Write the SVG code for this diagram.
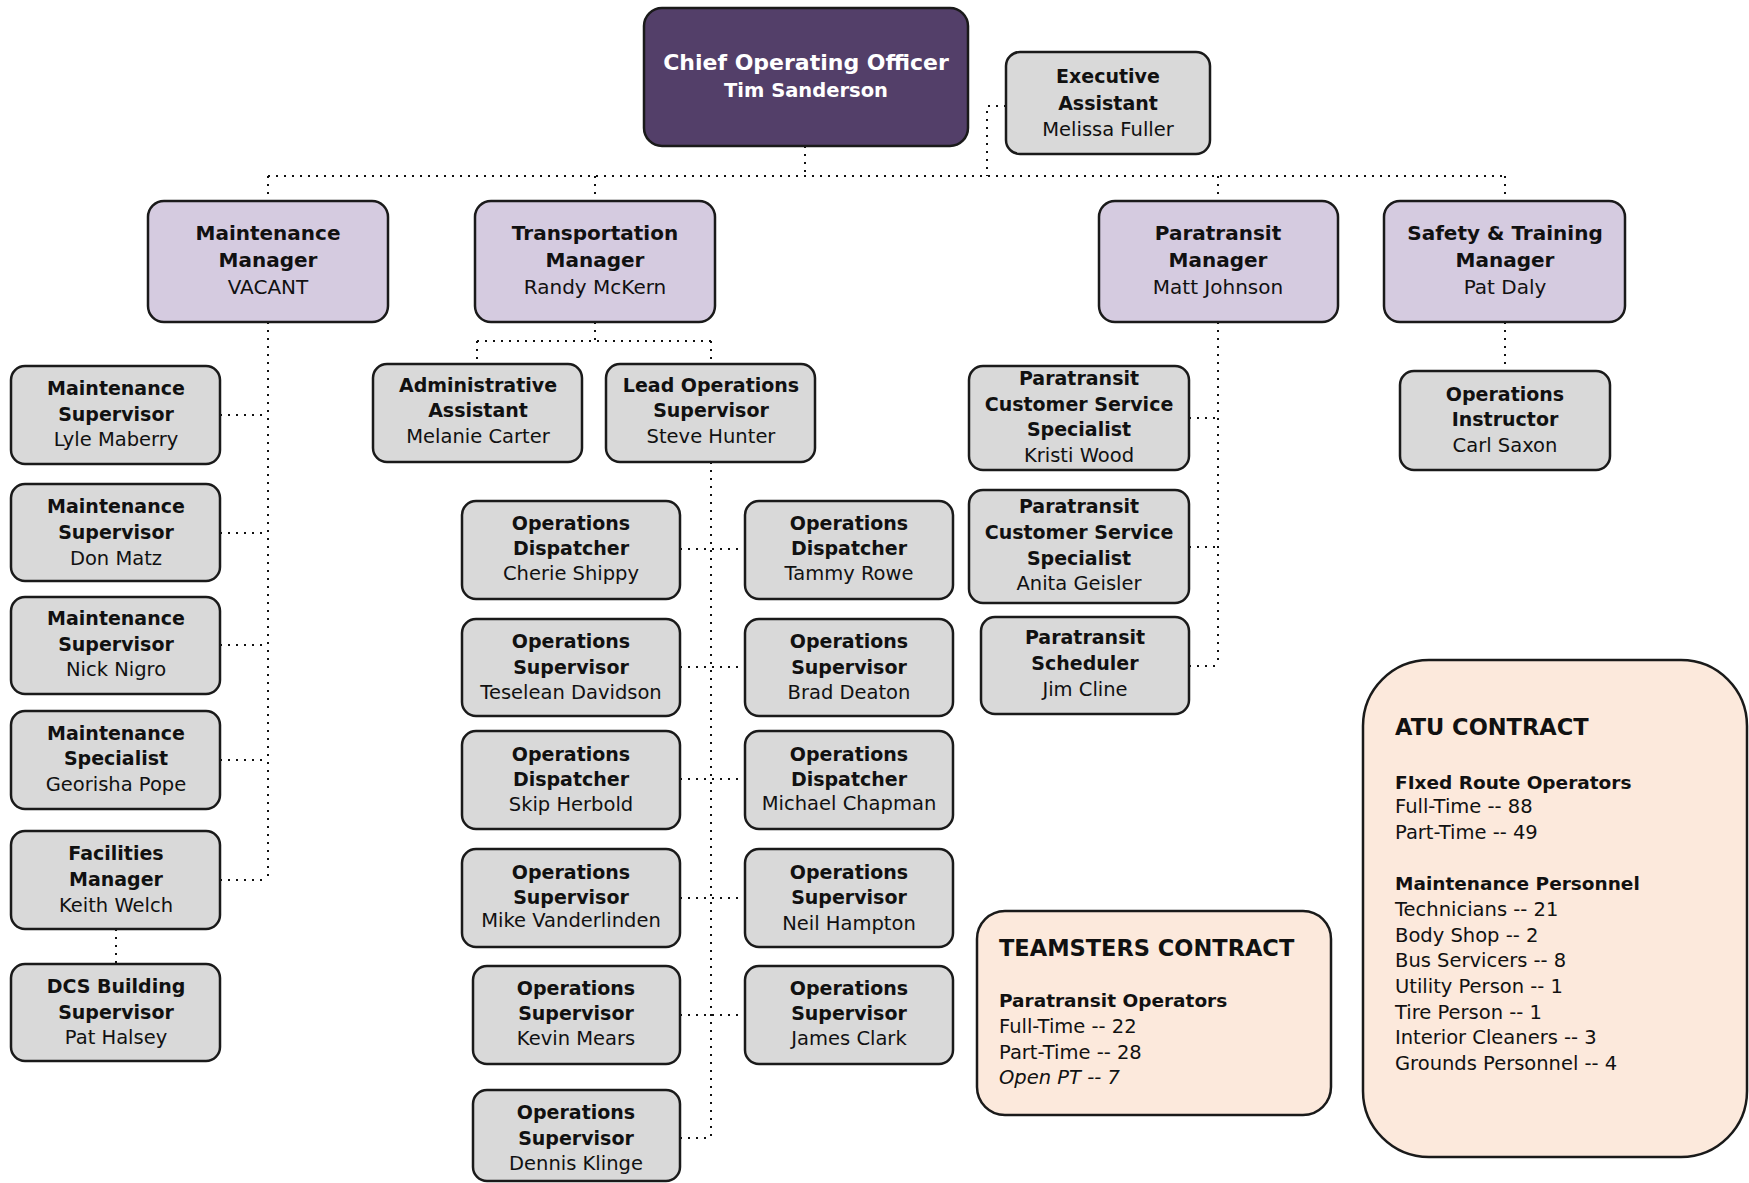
<svg xmlns="http://www.w3.org/2000/svg" width="1749" height="1183" viewBox="0 0 1749 1183">
<style>
text{font-family:"DejaVu Sans","Liberation Sans",sans-serif;fill:#111;}
.b{font-weight:bold;font-size:19px;text-anchor:middle;}
.r{font-size:19.5px;text-anchor:middle;}
.mb{font-weight:bold;font-size:20px;text-anchor:middle;}
.mr{font-size:20px;text-anchor:middle;}
.box{fill:#d9d9d9;stroke:#1a1a1a;stroke-width:2.5;}
.mgr{fill:#d5cbe0;stroke:#1a1a1a;stroke-width:2.5;}
.coo{fill:#533f69;stroke:#1a1a1a;stroke-width:2.5;}
.ctr{fill:#fce9dc;stroke:#1a1a1a;stroke-width:2.5;}
.w{fill:#fff;font-weight:bold;text-anchor:middle;}
.ct{font-weight:bold;font-size:22.5px;}
.cs{font-weight:bold;font-size:18.5px;}
.cl{font-size:19.5px;}
.con{fill:none;stroke:#111;stroke-width:2;stroke-dasharray:2 6;}
</style>
<rect width="1749" height="1183" fill="#fff"/>
<g id="connectors">
<path class="con" d="M805 146V176M268 176H1506M1006 106H987V176"/>
<path class="con" d="M268 176V201M595 176V201M1218 176V201M1505 176V201"/>
<path class="con" d="M268 322V880M220 415H268M220 533H268M220 645H268M220 760H268M220 880H268M116 929V964"/>
<path class="con" d="M595 322V341M477 341H711M477 341V364M711 341V364"/>
<path class="con" d="M711 462V1138M680 549H745M680 667H745M680 779H745M680 898H745M680 1015H745M680 1138H711"/>
<path class="con" d="M1218 322V666M1189 418H1218M1189 547H1218M1189 666H1218"/>
<path class="con" d="M1505 322V371"/>
</g>
<g id="coo"><rect class="coo" x="644" y="8" width="324" height="138" rx="18"/>
<text class="w" x="806" y="70" font-size="22">Chief Operating Officer</text>
<text class="w" x="806" y="97" font-size="19.5">Tim Sanderson</text></g>
<g id="exec"><rect class="box" x="1006" y="52" width="204" height="102" rx="14"/>
<text class="b" x="1108" y="83">Executive</text><text class="b" x="1108" y="110">Assistant</text><text class="r" x="1108" y="136">Melissa Fuller</text></g>
<g id="maint-mgr"><rect class="mgr" x="148" y="201" width="240" height="121" rx="16"/>
<text class="mb" x="268" y="240">Maintenance</text><text class="mb" x="268" y="267">Manager</text><text class="mr" x="268" y="294">VACANT</text></g>
<g id="trans-mgr"><rect class="mgr" x="475" y="201" width="240" height="121" rx="16"/>
<text class="mb" x="595" y="240">Transportation</text><text class="mb" x="595" y="267">Manager</text><text class="mr" x="595" y="294">Randy McKern</text></g>
<g id="para-mgr"><rect class="mgr" x="1099" y="201" width="239" height="121" rx="16"/>
<text class="mb" x="1218" y="240">Paratransit</text><text class="mb" x="1218" y="267">Manager</text><text class="mr" x="1218" y="294">Matt Johnson</text></g>
<g id="safety-mgr"><rect class="mgr" x="1384" y="201" width="241" height="121" rx="16"/>
<text class="mb" x="1505" y="240">Safety &amp; Training</text><text class="mb" x="1505" y="267">Manager</text><text class="mr" x="1505" y="294">Pat Daly</text></g>
<g id="ms1"><rect class="box" x="11" y="366" width="209" height="98" rx="14"/>
<text class="b" x="116" y="395">Maintenance</text><text class="b" x="116" y="421">Supervisor</text><text class="r" x="116" y="446">Lyle Maberry</text></g>
<g id="ms2"><rect class="box" x="11" y="484" width="209" height="97" rx="14"/>
<text class="b" x="116" y="513">Maintenance</text><text class="b" x="116" y="539">Supervisor</text><text class="r" x="116" y="565">Don Matz</text></g>
<g id="ms3"><rect class="box" x="11" y="597" width="209" height="97" rx="14"/>
<text class="b" x="116" y="625">Maintenance</text><text class="b" x="116" y="651">Supervisor</text><text class="r" x="116" y="676">Nick Nigro</text></g>
<g id="mspec"><rect class="box" x="11" y="711" width="209" height="98" rx="14"/>
<text class="b" x="116" y="740">Maintenance</text><text class="b" x="116" y="765">Specialist</text><text class="r" x="116" y="791">Georisha Pope</text></g>
<g id="fac"><rect class="box" x="11" y="831" width="209" height="98" rx="14"/>
<text class="b" x="116" y="860">Facilities</text><text class="b" x="116" y="886">Manager</text><text class="r" x="116" y="912">Keith Welch</text></g>
<g id="dcs"><rect class="box" x="11" y="964" width="209" height="97" rx="14"/>
<text class="b" x="116" y="993">DCS Building</text><text class="b" x="116" y="1019">Supervisor</text><text class="r" x="116" y="1044">Pat Halsey</text></g>
<g id="admin"><rect class="box" x="373" y="364" width="209" height="98" rx="14"/>
<text class="b" x="478" y="392">Administrative</text><text class="b" x="478" y="417">Assistant</text><text class="r" x="478" y="443">Melanie Carter</text></g>
<g id="lead"><rect class="box" x="606" y="364" width="209" height="98" rx="14"/>
<text class="b" x="711" y="392">Lead Operations</text><text class="b" x="711" y="417">Supervisor</text><text class="r" x="711" y="443">Steve Hunter</text></g>
<g id="od1"><rect class="box" x="462" y="501" width="218" height="98" rx="14"/>
<text class="b" x="571" y="530">Operations</text><text class="b" x="571" y="555">Dispatcher</text><text class="r" x="571" y="580">Cherie Shippy</text></g>
<g id="od2"><rect class="box" x="745" y="501" width="208" height="98" rx="14"/>
<text class="b" x="849" y="530">Operations</text><text class="b" x="849" y="555">Dispatcher</text><text class="r" x="849" y="580">Tammy Rowe</text></g>
<g id="os1"><rect class="box" x="462" y="619" width="218" height="97" rx="14"/>
<text class="b" x="571" y="648">Operations</text><text class="b" x="571" y="674">Supervisor</text><text class="r" x="571" y="699" font-size="18">Teselean Davidson</text></g>
<g id="os2"><rect class="box" x="745" y="619" width="208" height="97" rx="14"/>
<text class="b" x="849" y="648">Operations</text><text class="b" x="849" y="674">Supervisor</text><text class="r" x="849" y="699">Brad Deaton</text></g>
<g id="od3"><rect class="box" x="462" y="731" width="218" height="98" rx="14"/>
<text class="b" x="571" y="761">Operations</text><text class="b" x="571" y="786">Dispatcher</text><text class="r" x="571" y="811">Skip Herbold</text></g>
<g id="od4"><rect class="box" x="745" y="731" width="208" height="98" rx="14"/>
<text class="b" x="849" y="761">Operations</text><text class="b" x="849" y="786">Dispatcher</text><text class="r" x="849" y="810" font-size="17.5">Michael Chapman</text></g>
<g id="os3"><rect class="box" x="462" y="849" width="218" height="98" rx="14"/>
<text class="b" x="571" y="879">Operations</text><text class="b" x="571" y="904">Supervisor</text><text class="r" x="571" y="927" font-size="17.5">Mike Vanderlinden</text></g>
<g id="os4"><rect class="box" x="745" y="849" width="208" height="98" rx="14"/>
<text class="b" x="849" y="879">Operations</text><text class="b" x="849" y="904">Supervisor</text><text class="r" x="849" y="930">Neil Hampton</text></g>
<g id="os5"><rect class="box" x="473" y="966" width="207" height="98" rx="14"/>
<text class="b" x="576" y="995">Operations</text><text class="b" x="576" y="1020">Supervisor</text><text class="r" x="576" y="1045">Kevin Mears</text></g>
<g id="os6"><rect class="box" x="745" y="966" width="208" height="98" rx="14"/>
<text class="b" x="849" y="995">Operations</text><text class="b" x="849" y="1020">Supervisor</text><text class="r" x="849" y="1045">James Clark</text></g>
<g id="os7"><rect class="box" x="473" y="1090" width="207" height="91" rx="14"/>
<text class="b" x="576" y="1119">Operations</text><text class="b" x="576" y="1145">Supervisor</text><text class="r" x="576" y="1170">Dennis Klinge</text></g>
<g id="pcs1"><rect class="box" x="969" y="366" width="220" height="104" rx="14"/>
<text class="b" x="1079" y="385" font-size="18.5">Paratransit</text><text class="b" x="1079" y="411" font-size="18.5">Customer Service</text><text class="b" x="1079" y="436" font-size="18.5">Specialist</text><text class="r" x="1079" y="462">Kristi Wood</text></g>
<g id="pcs2"><rect class="box" x="969" y="490" width="220" height="113" rx="14"/>
<text class="b" x="1079" y="513" font-size="18.5">Paratransit</text><text class="b" x="1079" y="539" font-size="18.5">Customer Service</text><text class="b" x="1079" y="565" font-size="18.5">Specialist</text><text class="r" x="1079" y="590">Anita Geisler</text></g>
<g id="psched"><rect class="box" x="981" y="617" width="208" height="97" rx="14"/>
<text class="b" x="1085" y="644">Paratransit</text><text class="b" x="1085" y="670">Scheduler</text><text class="r" x="1085" y="696">Jim Cline</text></g>
<g id="instr"><rect class="box" x="1400" y="371" width="210" height="99" rx="14"/>
<text class="b" x="1505" y="401">Operations</text><text class="b" x="1505" y="426">Instructor</text><text class="r" x="1505" y="452">Carl Saxon</text></g>
<g id="teamsters"><rect class="ctr" x="977" y="911" width="354" height="204" rx="28"/>
<text class="ct" x="999" y="956" font-size="22">TEAMSTERS CONTRACT</text>
<text class="cs" x="999" y="1007">Paratransit Operators</text>
<text class="cl" x="999" y="1033">Full-Time -- 22</text>
<text class="cl" x="999" y="1059">Part-Time -- 28</text>
<text class="cl" x="999" y="1084" font-style="italic">Open PT -- 7</text></g>
<g id="atu"><rect class="ctr" x="1363" y="660" width="384" height="497" rx="66"/>
<text class="ct" x="1395" y="735">ATU CONTRACT</text>
<text class="cs" x="1395" y="789">FIxed Route Operators</text>
<text class="cl" x="1395" y="813">Full-Time -- 88</text>
<text class="cl" x="1395" y="839">Part-Time -- 49</text>
<text class="cs" x="1395" y="890">Maintenance Personnel</text>
<text class="cl" x="1395" y="916">Technicians -- 21</text>
<text class="cl" x="1395" y="942">Body Shop -- 2</text>
<text class="cl" x="1395" y="967">Bus Servicers -- 8</text>
<text class="cl" x="1395" y="993">Utility Person -- 1</text>
<text class="cl" x="1395" y="1019">Tire Person -- 1</text>
<text class="cl" x="1395" y="1044">Interior Cleaners -- 3</text>
<text class="cl" x="1395" y="1070">Grounds Personnel -- 4</text></g>
</svg>
